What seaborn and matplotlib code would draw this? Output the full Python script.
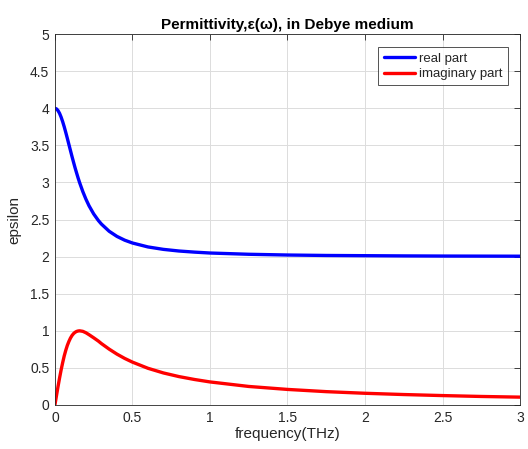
import matplotlib
matplotlib.use("Agg")
import matplotlib.pyplot as plt
import seaborn as sns
import pandas as pd

freq = [0.0, 0.01, 0.02, 0.03, 0.04, 0.05, 0.06, 0.07, 0.08, 0.09, 0.10, 0.11, 0.12, 0.13, 0.14,
        0.15, 0.16, 0.18, 0.20, 0.22, 0.25, 0.28, 0.30, 0.35, 0.40, 0.45, 0.50, 0.60, 0.70,
        0.80, 0.90, 1.00, 1.25, 1.50, 1.75, 2.00, 2.25, 2.50, 2.75, 3.00]
real_part = [4.000, 3.992, 3.969, 3.932, 3.881, 3.820, 3.751, 3.675, 3.596, 3.514, 3.433, 3.352,
             3.274, 3.198, 3.127, 3.058, 2.994, 2.877, 2.775, 2.686, 2.576, 2.488, 2.439, 2.342,
             2.273, 2.222, 2.184, 2.131, 2.098, 2.076, 2.061, 2.049, 2.032, 2.022, 2.016,
             2.013, 2.010, 2.008, 2.007, 2.006]
imag_part = [0.000, 0.125, 0.248, 0.364, 0.473, 0.571, 0.661, 0.737, 0.803, 0.856, 0.901, 0.936,
             0.962, 0.980, 0.992, 0.998, 1.000, 0.993, 0.974, 0.948, 0.906, 0.862, 0.828, 0.753,
             0.686, 0.628, 0.578, 0.495, 0.432, 0.383, 0.344, 0.311, 0.250, 0.210, 0.180,
             0.158, 0.141, 0.127, 0.115, 0.106]
series_names = ["real part", "imaginary part"]
x_ticks = [0, 0.5, 1, 1.5, 2, 2.5, 3]
x_tick_labels = ["0", "0.5", "1", "1.5", "2", "2.5", "3"]
y_ticks = [0, 0.5, 1, 1.5, 2, 2.5, 3, 3.5, 4, 4.5, 5]
y_tick_labels = ["0", "0.5", "1", "1.5", "2", "2.5", "3", "3.5", "4", "4.5", "5"]

df = pd.DataFrame({
    "frequency": freq * 2,
    "epsilon": real_part + imag_part,
    "part": [series_names[0]] * len(freq) + [series_names[1]] * len(freq),
})

sns.set_style("white")
plt.rcParams["font.family"] = ["Liberation Sans", "DejaVu Sans"]

fig = plt.figure(figsize=(5.28, 4.49), dpi=100)
ax = fig.add_axes([0.104, 0.098, 0.881, 0.826])

sns.lineplot(data=df, x="frequency", y="epsilon", hue="part",
             palette={series_names[0]: "#0000ff", series_names[1]: "#ff0000"},
             linewidth=2.4, ax=ax, sort=False)

ax.set_xlim(0, 3)
ax.set_ylim(0, 5)
ax.set_xticks(x_ticks)
ax.set_xticklabels(x_tick_labels)
ax.set_yticks(y_ticks)
ax.set_yticklabels(y_tick_labels)
ax.grid(True, color="#dcdcdc", linewidth=0.7)
ax.set_axisbelow(True)
for s in ax.spines.values():
    s.set_color("#262626")
    s.set_linewidth(0.6)
    s.set_visible(True)
ax.tick_params(axis="both", direction="in", length=4, width=0.6, colors="#262626",
               labelsize=10, top=True, right=True, pad=4)
ax.tick_params(axis="both", labelcolor="#262626")
ax.set_xlabel("frequency(THz)", fontsize=11, color="#262626", labelpad=2)
ax.set_ylabel("epsilon", fontsize=11, color="#262626", labelpad=6)
ax.set_title("Permittivity,ε(ω), in Debye medium", fontsize=11, fontweight="bold",
             color="black", pad=4)

leg = ax.legend(loc="upper right", bbox_to_anchor=(0.973, 0.965), fontsize=9.5,
                frameon=True, fancybox=False, handlelength=2.4, handletextpad=0.25,
                borderpad=0.4, labelspacing=0.25, borderaxespad=0)
leg.get_frame().set_edgecolor("#262626")
leg.get_frame().set_linewidth(0.7)
for line in leg.get_lines():
    line.set_linewidth(2.4)

fig.savefig("out.png", dpi=100)
